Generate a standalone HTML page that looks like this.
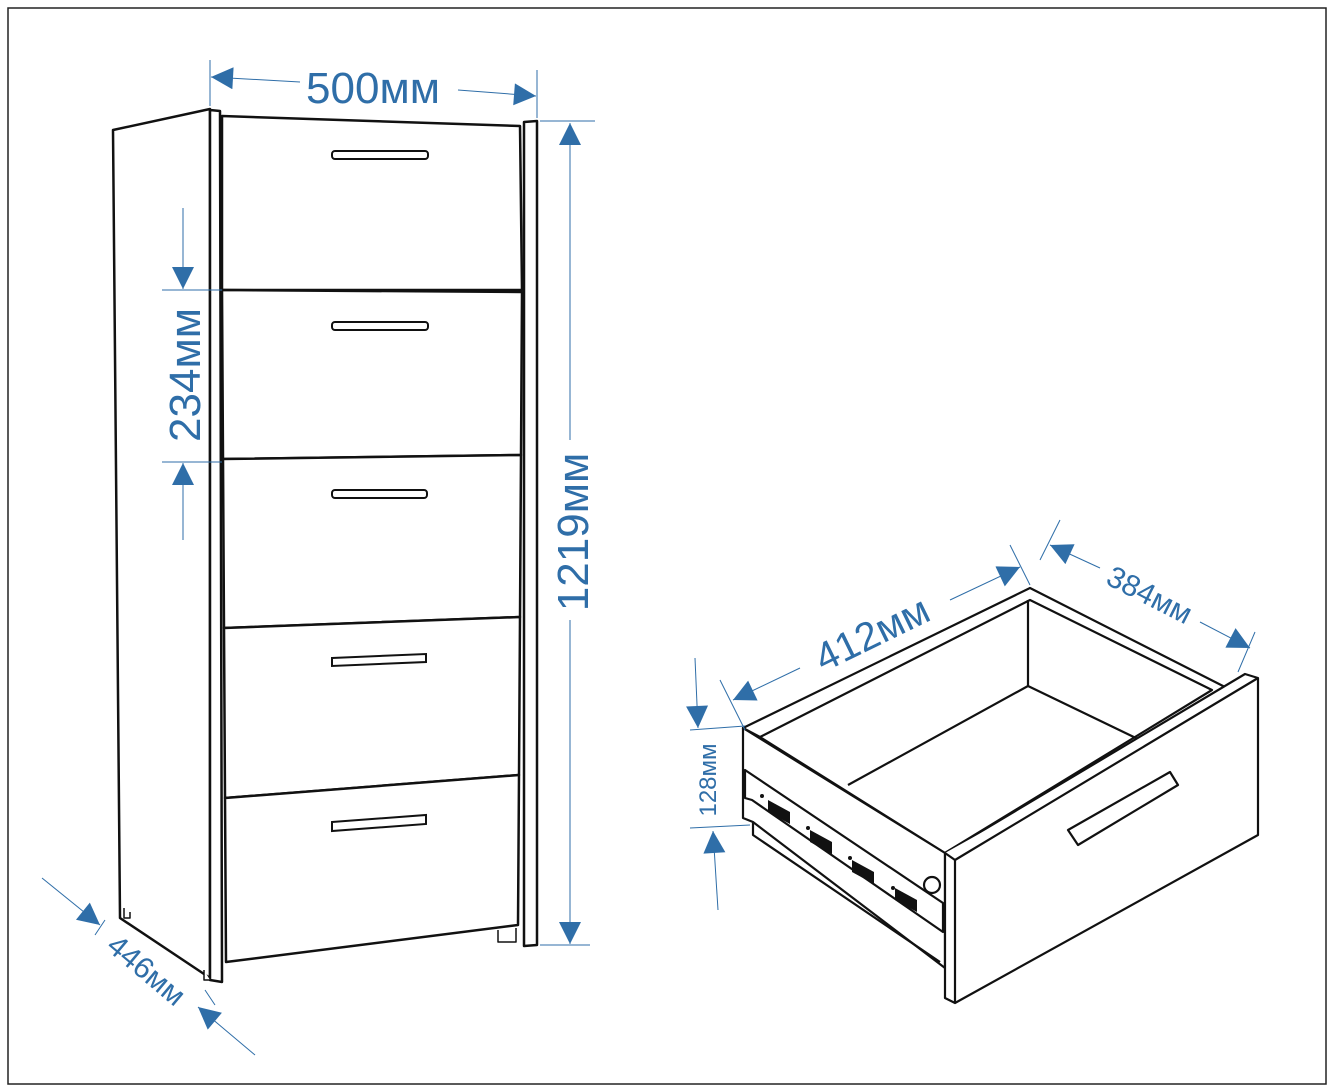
<!DOCTYPE html>
<html><head><style>body{margin:0;background:#fff}svg{display:block}</style></head><body>
<svg width="1334" height="1092" viewBox="0 0 1334 1092" xmlns="http://www.w3.org/2000/svg">
<defs>
<marker id="b" viewBox="0 0 10 10" refX="10" refY="5" markerWidth="34" markerHeight="22" orient="auto" markerUnits="userSpaceOnUse"><path d="M0,0L10,5L0,10z" fill="#2f6ea8"/></marker>
</defs>
<rect x="8" y="8" width="1318" height="1076" fill="#fff" stroke="#222" stroke-width="1.5"/>
<g fill="#fff" stroke="#111" stroke-width="2.5" stroke-linejoin="round">
<path d="M113,130 L210,109 L210,978 L120,918 Z"/>
<path d="M210,110 L220,111 L222,982 L210,980 Z"/>
<path d="M524,122 L537,121 L537,945 L524,946 Z"/>
<path d="M222,116 L520,126 L522,290 L222,290 Z"/>
<path d="M222,290 L522,292 L521,455 L223,459 Z"/>
<path d="M223,459 L521,455 L520,617 L224,628 Z"/>
<path d="M224,628 L520,617 L519,775 L225,798 Z"/>
<path d="M225,798 L519,775 L518,925 L226,962 Z"/>
<path d="M124,908 L124,918 L130,918 L130,912" stroke-width="1.5"/>
<path d="M204,970 L204,980 L210,980" stroke-width="1.5"/>
<path d="M498,930 L498,942 L516,942 L516,928" stroke-width="1.5"/>
</g>
<g fill="#fff" stroke="#111" stroke-width="2">
<rect x="332" y="151" width="96" height="8" rx="3"/>
<rect x="332" y="322" width="96" height="8" rx="3"/>
<rect x="332" y="490" width="95" height="8" rx="3"/>
<path d="M332,658 L426,654 L426,662 L332,666 Z"/>
<path d="M332,822 L426,815 L426,824 L332,831 Z"/>
</g>
<g fill="#fff" stroke="#111" stroke-width="2.2" stroke-linejoin="round">
<path d="M743,728 L1030,588 L1225,687 L945,853 Z"/>
<path d="M760,737 L1030,600 L1212,690 L945,853 Z"/>
<path d="M848,785 L1028,686 L1140,740" fill="none"/>
<path d="M1028,600 L1028,686" fill="none"/>
<path d="M743,728 L945,853 L945,968 L753,822 L743,818 Z"/>
<path d="M743,728 L760,737"/>
<path d="M745,770 L943,903 L943,932 L752,800 L745,798 Z"/>
<path d="M753,822 L753,835 L940,962" fill="none"/>
<path d="M945,853 L1245,674 L1258,678 L1258,835 L955,1003 L945,998 Z"/>
<path d="M945,853 L955,860 L1258,678"/>
<path d="M955,860 L955,1003"/>
<path d="M1068,830 L1170,772 L1178,785 L1078,845 Z"/>
<circle cx="932" cy="885" r="8"/>
</g>
<g fill="#111">
<path d="M768,800 l22,12 l0,12 l-22,-12z"/><path d="M810,830 l22,12 l0,12 l-22,-12z"/>
<path d="M852,860 l22,12 l0,12 l-22,-12z"/><path d="M895,888 l22,12 l0,12 l-22,-12z"/>
<circle cx="762" cy="796" r="2"/><circle cx="808" cy="828" r="2"/><circle cx="850" cy="858" r="2"/><circle cx="893" cy="888" r="2"/>
</g>
<g stroke="#2f6ea8" stroke-width="1" fill="none">
<path d="M210,60 L210,106 M537,70 L537,118"/>
<path d="M300,82 L211,77" marker-end="url(#b)"/>
<path d="M458,90 L536,96" marker-end="url(#b)"/>
<path d="M540,121 L595,121 M540,945 L590,945"/>
<path d="M570,440 L570,123" marker-end="url(#b)"/>
<path d="M570,620 L570,944" marker-end="url(#b)"/>
<path d="M162,290 L222,290 M162,462 L222,462"/>
<path d="M183,208 L183,289" marker-end="url(#b)"/>
<path d="M183,540 L183,463" marker-end="url(#b)"/>
<path d="M42,878 L100,925" marker-end="url(#b)"/>
<path d="M255,1055 L198,1007" marker-end="url(#b)"/>
<path d="M105,920 L95,935 M205,990 L215,1005"/>
<path d="M720,680 L745,730 M1010,545 L1030,585"/>
<path d="M800,668 L733,700" marker-end="url(#b)"/>
<path d="M950,600 L1020,567" marker-end="url(#b)"/>
<path d="M1060,520 L1040,560 M1255,632 L1238,672"/>
<path d="M1100,568 L1050,545" marker-end="url(#b)"/>
<path d="M1200,622 L1250,648" marker-end="url(#b)"/>
<path d="M690,730 L745,726 M690,828 L750,825"/>
<path d="M695,658 L698,728" marker-end="url(#b)"/>
<path d="M718,910 L713,831" marker-end="url(#b)"/>
</g>
<g fill="#2f6ea8" font-family="Liberation Sans, sans-serif">
<text x="373" y="103" font-size="44" text-anchor="middle">500мм</text>
<text transform="translate(588,532) rotate(-90)" font-size="44" text-anchor="middle">1219мм</text>
<text transform="translate(200,375) rotate(-90)" font-size="44" text-anchor="middle">234мм</text>
<text transform="translate(140,978) rotate(40)" font-size="30" text-anchor="middle">446мм</text>
<text transform="translate(878,646) rotate(-26)" font-size="40" text-anchor="middle">412мм</text>
<text transform="translate(1145,604) rotate(27)" font-size="30" text-anchor="middle">384мм</text>
<text transform="translate(716,780) rotate(-90)" font-size="24" text-anchor="middle">128мм</text>
</g>
</svg>
</body></html>
